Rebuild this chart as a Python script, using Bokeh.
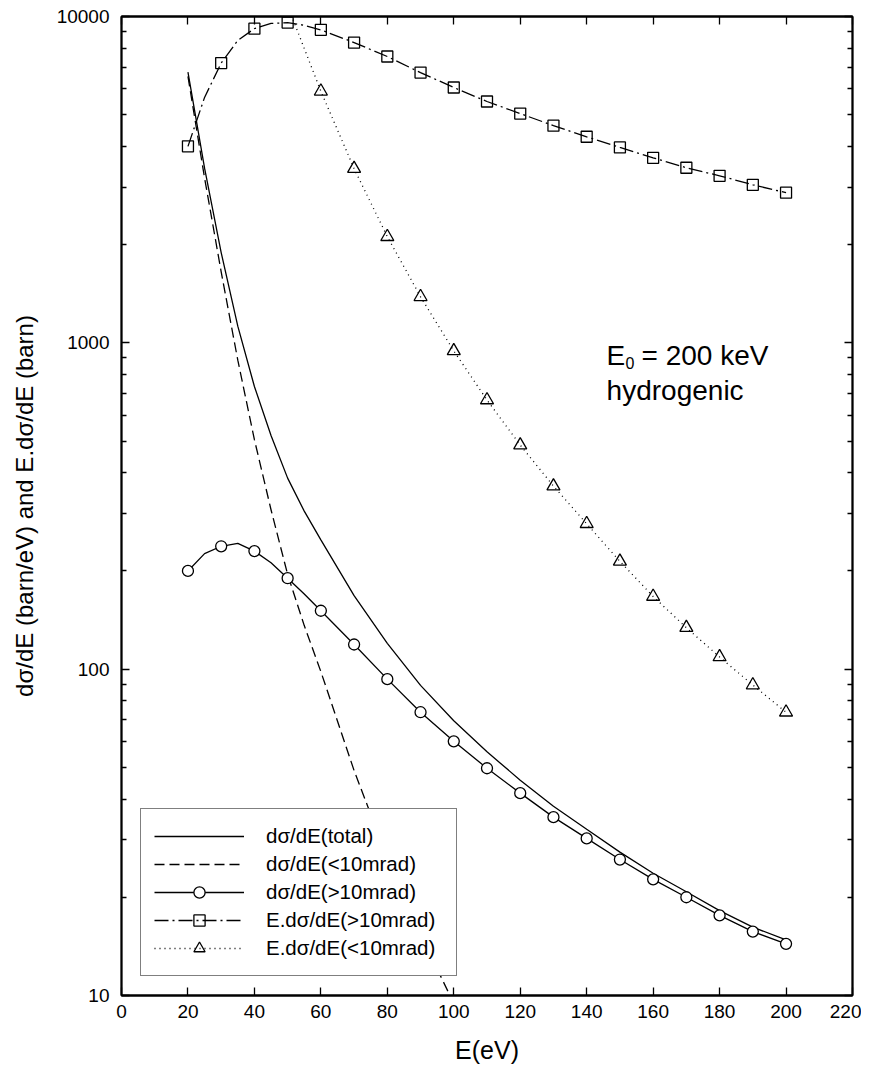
from bokeh.plotting import figure
from bokeh.models import (LinearAxis, LogAxis, FixedTicker, PrintfTickFormatter,
                          CustomJSTickFormatter, Legend, LegendItem, Label, Range1d)
from bokeh.embed import file_html
from bokeh.resources import INLINE

# ---------------- data ----------------
E_line = [20, 25, 30, 35, 40, 45, 50, 55, 60, 70, 80, 90, 100, 110, 120, 130,
          140, 150, 160, 170, 180, 190, 200]
total_line = [6750, 3430, 1890, 1125, 735, 520, 385, 305, 249, 168, 120, 89.2,
              69.5, 55.8, 45.7, 38.0, 32.3, 27.5, 23.7, 20.8, 18.2, 16.2, 14.8]
circ_line = [200, 226, 238, 243, 230, 212, 190, 170, 151, 119, 93.2, 73.8, 60.1,
             49.7, 41.7, 35.2, 30.3, 26.1, 22.7, 20.0, 17.6, 15.7, 14.4]
sq_line = [4000, 5650, 7200, 8450, 9180, 9520, 9580, 9400, 9100, 8320, 7540,
           6730, 6060, 5490, 5040, 4630, 4280, 3970, 3690, 3440, 3250, 3050, 2885]

E_dash = [20, 25, 30, 35, 40, 45, 50, 55, 60, 70, 80, 90, 100]
dash_line = [6550, 3200, 1650, 885, 505, 308, 195, 136, 98.3, 48.9, 26.4, 15.4,
             9.45]

E_tri = [40, 45, 50, 60, 70, 80, 90, 100, 110, 120, 130, 140, 150, 160, 170,
         180, 190, 200]
tri_line = [20200, 14000, 10800, 5900, 3420, 2114, 1384, 945, 668, 486, 364,
            279, 214, 167, 134, 109, 89.4, 73.8]

E_marks = [20, 30, 40, 50, 60, 70, 80, 90, 100, 110, 120, 130, 140, 150, 160,
           170, 180, 190, 200]
circ_marks = [200, 238, 230, 190, 151, 119, 93.2, 73.8, 60.1, 49.7, 41.7, 35.2,
              30.3, 26.1, 22.7, 20.0, 17.6, 15.7, 14.4]
sq_marks = [4000, 7200, 9180, 9580, 9100, 8320, 7540, 6730, 6060, 5490, 5040,
            4630, 4280, 3970, 3690, 3440, 3250, 3050, 2885]
E_tri_marks = [60, 70, 80, 90, 100, 110, 120, 130, 140, 150, 160, 170, 180,
               190, 200]
tri_marks = [5900, 3420, 2114, 1384, 945, 668, 486, 364, 279, 214, 167, 134,
             109, 89.4, 73.8]

x_ticks = [0, 20, 40, 60, 80, 100, 120, 140, 160, 180, 200, 220]
y_ticks = [10, 100, 1000, 10000]
y_minor = [20, 30, 40, 50, 60, 70, 80, 90,
           200, 300, 400, 500, 600, 700, 800, 900,
           2000, 3000, 4000, 5000, 6000, 7000, 8000, 9000]

labels = ["d\u03c3/dE(total)", "d\u03c3/dE(<10mrad)", "d\u03c3/dE(>10mrad)",
          "E.d\u03c3/dE(>10mrad)", "E.d\u03c3/dE(<10mrad)"]

FONT = "Liberation Sans"

# ---------------- figure ----------------
p = figure(frame_width=731, frame_height=979,
           x_range=Range1d(0, 220), y_range=Range1d(10, 10000),
           y_axis_type="log", output_backend="svg", toolbar_location=None,
           min_border_left=121, min_border_top=16, min_border_right=9,
           min_border_bottom=60)
p.grid.visible = False
p.outline_line_color = "black"
p.outline_line_width = 1.8
p.background_fill_color = "white"
p.border_fill_color = "white"

xt = FixedTicker(ticks=x_ticks, minor_ticks=[])
yt = FixedTicker(ticks=y_ticks, minor_ticks=y_minor)

xa = p.xaxis[0]
xa.ticker = xt
xa.axis_label = "E(eV)"
xa.axis_label_text_font = FONT
xa.axis_label_text_font_size = "25px"
xa.axis_label_text_font_style = "normal"
xa.axis_label_standoff = 15
xa.major_label_text_font = FONT
xa.major_label_text_font_size = "19px"
xa.major_label_standoff = 9

ya = p.yaxis[0]
ya.ticker = yt
ya.formatter = PrintfTickFormatter(format="%d")
ya.axis_label = "d\u03c3/dE (barn/eV) and E.d\u03c3/dE (barn)"
ya.axis_label_text_font = FONT
ya.axis_label_text_font_size = "24px"
ya.axis_label_text_font_style = "normal"
ya.axis_label_standoff = 16
ya.major_label_text_font = FONT
ya.major_label_text_font_size = "19px"
ya.major_label_standoff = 12

for ax in (xa, ya):
    ax.axis_line_color = "black"
    ax.axis_line_width = 1.8
    ax.major_tick_in = 8
    ax.major_tick_out = 0
    ax.minor_tick_in = 5
    ax.minor_tick_out = 0
    ax.major_tick_line_width = 1.3
    ax.minor_tick_line_width = 1.3
    ax.major_label_text_color = "black"
    ax.axis_label_text_color = "black"

blank = CustomJSTickFormatter(code="return ''")
top = LinearAxis(ticker=FixedTicker(ticks=x_ticks, minor_ticks=[]),
                 formatter=blank, major_label_standoff=0,
                 major_tick_in=8, major_tick_out=0, minor_tick_in=0,
                 minor_tick_out=0, axis_line_width=1.8, major_tick_line_width=1.3)
p.add_layout(top, "above")
right = LogAxis(ticker=FixedTicker(ticks=y_ticks, minor_ticks=y_minor),
                formatter=blank, major_label_standoff=0,
                major_tick_in=8, major_tick_out=0, minor_tick_in=5,
                minor_tick_out=0, axis_line_width=1.8, major_tick_line_width=1.3,
                minor_tick_line_width=1.3)
p.add_layout(right, "right")

LW = 1.3
r_total = p.line(E_line, total_line, line_color="black", line_width=LW)
r_dash = p.line(E_dash, dash_line, line_color="black", line_width=LW,
                line_dash="10 5")
r_circ_l = p.line(E_line, circ_line, line_color="black", line_width=LW)
r_sq_l = p.line(E_line, sq_line, line_color="black", line_width=LW,
                line_dash="14 4 2 4")
r_tri_l = p.line(E_tri, tri_line, line_color="black", line_width=LW,
                 line_dash="1 4")

r_circ_m = p.scatter(E_marks, circ_marks, marker="circle", size=11,
                     line_color="black", fill_color="white", line_width=LW)
r_sq_m = p.scatter(E_marks, sq_marks, marker="square", size=11,
                   line_color="black", fill_color=None, line_width=LW)
r_tri_m = p.scatter(E_tri_marks, tri_marks, marker="triangle", size=13,
                    line_color="black", fill_color=None, line_width=LW)

legend = Legend(items=[
    LegendItem(label=labels[0], renderers=[r_total]),
    LegendItem(label=labels[1], renderers=[r_dash]),
    LegendItem(label=labels[2], renderers=[r_circ_l, r_circ_m]),
    LegendItem(label=labels[3], renderers=[r_sq_l, r_sq_m]),
    LegendItem(label=labels[4], renderers=[r_tri_l, r_tri_m]),
], location=(19, 19), border_line_color="black", border_line_width=1.2,
   background_fill_color="white", background_fill_alpha=1.0,
   label_text_font=FONT, label_text_font_size="20.5px", label_text_color="black",
   glyph_width=90, glyph_height=28, label_height=28, label_width=177,
   padding=13, spacing=0, label_standoff=22, margin=0)
p.add_layout(legend)

# annotation: E0 = 200 keV / hydrogenic
p.add_layout(Label(x=146, y=917, text="E", text_font=FONT,
                   text_font_size="28px", text_color="black",
                   text_baseline="alphabetic"))
p.add_layout(Label(x=151.7, y=866, text="0", text_font=FONT,
                   text_font_size="16px", text_color="black",
                   text_baseline="alphabetic"))
p.add_layout(Label(x=156.5, y=917, text="= 200 keV", text_font=FONT,
                   text_font_size="28px", text_color="black",
                   text_baseline="alphabetic"))
p.add_layout(Label(x=146, y=716, text="hydrogenic", text_font=FONT,
                   text_font_size="28px", text_color="black",
                   text_baseline="alphabetic"))

open("out.html", "w").write(file_html(p, INLINE))
